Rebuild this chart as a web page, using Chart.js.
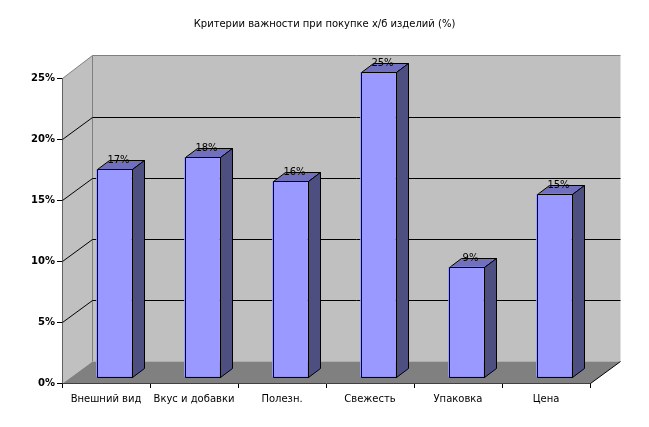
<!DOCTYPE html>
<html>
<head>
<meta charset="utf-8">
<style>
  html, body { margin: 0; padding: 0; background: #fff; }
  canvas { display: block; }
</style>
<script src="https://cdn.jsdelivr.net/npm/chart.js@4"></script>
</head>
<body>
<canvas id="myChart" width="649" height="427"></canvas>
<script>
const titleText = "Критерии важности при покупке х/б изделий (%)";
const categories = ["Внешний вид", "Вкус и добавки", "Полезн.", "Свежесть", "Упаковка", "Цена"];
const values = [17, 18, 16, 25, 9, 15];
const yTicks = [0, 5, 10, 15, 20, 25];

const FONT = "DejaVu Sans";
// 3D look: depth of the walls and of the bars, in pixels
const wallDx = 30, wallDy = -22;
const barDx = 12, barDy = -9;
const barShiftX = 8, barShiftY = -6;

function poly(ctx, pts, fill, stroke) {
    ctx.beginPath();
    pts.forEach((p, i) => i ? ctx.lineTo(p[0], p[1]) : ctx.moveTo(p[0], p[1]));
    ctx.closePath();
    if (fill) { ctx.fillStyle = fill; ctx.fill(); }
    if (stroke) { ctx.strokeStyle = stroke; ctx.lineWidth = 1; ctx.stroke(); }
}

// crisp edges of a bar, snapped to whole pixels
function barBox(bar) {
    const hw = bar.width / 2;
    return {
        x0: Math.round(bar.x - hw) + 0.5,
        x1: Math.round(bar.x + hw) + 0.5,
        yt: Math.floor(bar.y) + 0.5,
        yb: Math.round(bar.base) + 0.5
    };
}

const box3d = {
    id: "box3d",
    beforeDatasetsDraw(chart) {
        const ctx = chart.ctx;
        const { left, right, top, bottom } = chart.chartArea;
        const y = chart.scales.y;
        const l = left + 0.5, r = right + 0.5, t = top + 0.5, b = bottom + 0.5;
        const backTop = t + wallDy - 1;
        ctx.save();
        // back wall, side wall, floor
        poly(ctx, [[l + wallDx, backTop], [r + wallDx, backTop], [r + wallDx, b + wallDy], [l + wallDx, b + wallDy]], "#c0c0c0");
        poly(ctx, [[l, t], [l + wallDx, backTop], [l + wallDx, b + wallDy], [l, b]], "#c0c0c0");
        poly(ctx, [[l, b], [l + wallDx, b + wallDy], [r + wallDx, b + wallDy], [r, b]], "#808080");
        // grey wall edges
        ctx.strokeStyle = "#808080";
        ctx.lineWidth = 1;
        ctx.beginPath();
        ctx.moveTo(l, t);
        ctx.lineTo(l + wallDx, backTop);
        ctx.lineTo(r + wallDx, backTop);
        ctx.moveTo(l + wallDx, backTop);
        ctx.lineTo(l + wallDx, b + wallDy);
        ctx.stroke();
        // gridlines run along the side wall and the back wall
        ctx.strokeStyle = "#000";
        ctx.beginPath();
        yTicks.slice(1, -1).forEach(v => {
            const py = Math.round(y.getPixelForValue(v)) + 0.5;
            ctx.moveTo(l, py);
            ctx.lineTo(l + wallDx, py + wallDy);
            ctx.lineTo(r + wallDx, py + wallDy);
        });
        ctx.moveTo(r, b);
        ctx.lineTo(r + wallDx, b + wallDy);
        ctx.stroke();
        ctx.restore();
    },
    beforeDatasetDraw(chart) {
        const ctx = chart.ctx;
        ctx.save();
        ctx.translate(barShiftX, barShiftY);
        // top and side faces come from the bar elements
        chart.getDatasetMeta(0).data.forEach(bar => {
            const { x0, x1, yt, yb } = barBox(bar);
            poly(ctx, [[x0, yt], [x0 + barDx, yt + barDy], [x1 + barDx, yt + barDy], [x1, yt]], "#7070bf", "#000");
            poly(ctx, [[x1, yt], [x1 + barDx, yt + barDy], [x1 + barDx, yb + barDy], [x1, yb]], "#4c4f80", "#000");
        });
    },
    afterDatasetDraw(chart) {
        const ctx = chart.ctx;
        ctx.font = "10px '" + FONT + "'";
        ctx.textAlign = "center";
        ctx.textBaseline = "middle";
        chart.getDatasetMeta(0).data.forEach((bar, i) => {
            const { x0, x1, yt, yb } = barBox(bar);
            poly(ctx, [[x0, yt], [x1, yt], [x1, yb], [x0, yb]], null, "#000");
            // value labels sit on the top face
            ctx.fillStyle = "#000";
            ctx.fillText(values[i] + "%", bar.x + 4.5, bar.y - 9);
        });
        ctx.restore();
    }
};

const ctx = document.getElementById("myChart").getContext("2d");

const myChart = new Chart(ctx, {
    type: "bar",
    data: {
        labels: categories,
        datasets: [{
            data: values,
            backgroundColor: "#9999ff",
            borderWidth: 0,
            categoryPercentage: 1,
            barThickness: 35
        }]
    },
    options: {
        responsive: false,
        animation: false,
        layout: { padding: 0 },
        scales: {
            y: {
                min: 0,
                max: 25,
                afterFit: s => { s.width = 62; },
                afterBuildTicks: s => { s.ticks = yTicks.map(v => ({ value: v })); },
                ticks: {
                    color: "#000",
                    padding: 2,
                    font: { family: FONT, size: 10, weight: "bold" },
                    callback: v => v + "%"
                },
                border: { color: "#000" },
                grid: { drawOnChartArea: false, color: "#000", tickLength: 5 }
            },
            // empty axis, only keeps the right margin so the title stays centred on the page
            spacer: {
                position: "right",
                afterFit: s => { s.width = 59; },
                ticks: { display: false },
                border: { display: false },
                grid: { display: false }
            },
            x: {
                afterFit: s => { s.height = 44; },
                ticks: {
                    color: "#000",
                    padding: 5,
                    maxRotation: 0,
                    font: { family: FONT, size: 10 }
                },
                border: { color: "#000" },
                grid: { drawOnChartArea: false, color: "#000", tickLength: 5 }
            }
        },
        plugins: {
            legend: { display: false },
            tooltip: { enabled: false },
            title: {
                display: true,
                text: titleText,
                color: "#000",
                font: { family: FONT, size: 10, weight: "normal", lineHeight: 1.2 },
                padding: { top: 18, bottom: 48 }
            }
        }
    },
    plugins: [box3d]
});
</script>
</body>
</html>
